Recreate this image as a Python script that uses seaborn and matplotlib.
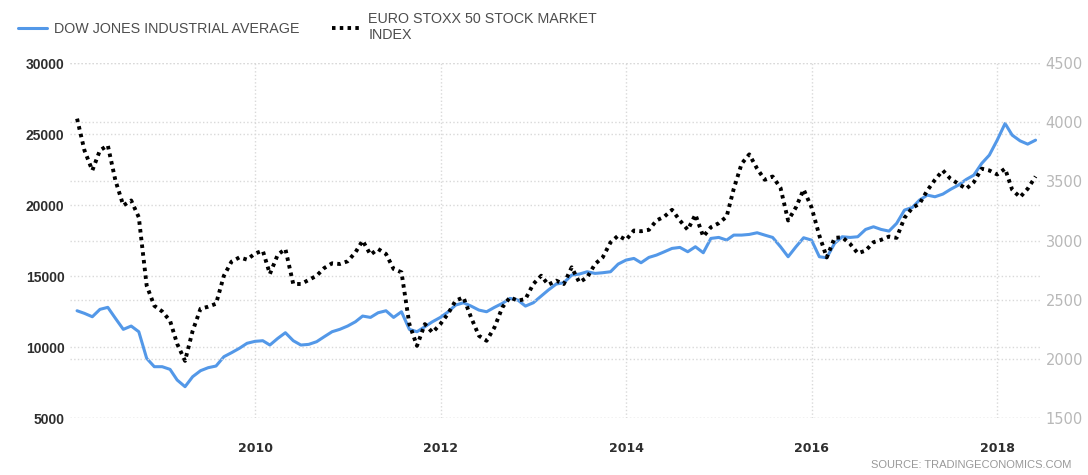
import pandas as pd
import matplotlib.pyplot as plt
import matplotlib.dates as mdates
from matplotlib.lines import Line2D
import seaborn as sns

# Monthly values, Jan 2008 .. May 2018
dow = [
    12556, 12373, 12134, 12655, 12796, 12021, 11246, 11479, 11077, 9202, 8615, 8615,
    8427, 7676, 7206, 7911, 8333, 8544, 8662, 9319, 9601, 9911, 10263, 10400,
    10446, 10141, 10610, 11009, 10446, 10141, 10188, 10376, 10728, 11080, 11246, 11479,
    11783, 12183, 12087, 12415, 12556, 12087, 12486, 11246, 11080, 11432, 11783, 12087,
    12486, 12955, 13120, 12885, 12603, 12486, 12796, 13075, 13428, 13310, 12885, 13120,
    13592, 14014, 14437, 14530, 15070, 15141, 15305, 15188, 15235, 15305, 15845, 16127,
    16244, 15939, 16315, 16479, 16714, 16949, 17019, 16714, 17066, 16643, 17653, 17723,
    17535, 17887, 17887, 17934, 18052, 17887, 17723, 17066, 16362, 17066, 17700, 17535,
    16362, 16291, 17306, 17770, 17723, 17770, 18286, 18474, 18286, 18169, 18709, 19648,
    19836, 20352, 20704, 20587, 20775, 21106, 21408, 21807, 22113, 22937, 23521, 24577,
    25751, 24929, 24528, 24296, 24577,
]
euro = [
    4031, 3763, 3593, 3763, 3805, 3508, 3297, 3339, 3197, 2619, 2449, 2401,
    2322, 2127, 1983, 2237, 2424, 2441, 2466, 2703, 2822, 2858, 2839, 2890,
    2915, 2718, 2881, 2929, 2633, 2633, 2667, 2703, 2768, 2808, 2802, 2825,
    2901, 3000, 2881, 2929, 2887, 2760, 2732, 2294, 2110, 2294, 2223, 2294,
    2384, 2492, 2520, 2350, 2195, 2153, 2266, 2435, 2520, 2492, 2506, 2633,
    2703, 2627, 2661, 2633, 2774, 2647, 2689, 2802, 2858, 2985, 3042, 3006,
    3085, 3079, 3091, 3170, 3203, 3260, 3170, 3091, 3220, 3034, 3113, 3147,
    3203, 3438, 3650, 3729, 3608, 3514, 3542, 3446, 3170, 3282, 3432, 3282,
    3042, 2858, 3023, 3028, 2972, 2893, 2915, 2986, 3006, 3034, 3023, 3192,
    3277, 3311, 3424, 3514, 3593, 3523, 3480, 3438, 3494, 3608, 3593, 3559,
    3608, 3430, 3367, 3438, 3542,
]
dates = pd.date_range("2008-01-31", periods=len(dow), freq="ME")

left_ticks = [5000, 10000, 15000, 20000, 25000, 30000]
right_ticks = [1500, 2000, 2500, 3000, 3500, 4000, 4500]
year_ticks = [2010, 2012, 2014, 2016, 2018]

label_dow = "DOW JONES INDUSTRIAL AVERAGE"
label_euro = "EURO STOXX 50 STOCK MARKET\nINDEX"

sns.set_style("white")
plt.rcParams['font.family'] = ['Liberation Sans', 'DejaVu Sans']

blue = "#5398e8"
grid_c = "#d9d9d9"

fig = plt.figure(figsize=(10.88, 4.75), dpi=100)
ax = fig.add_axes([0.0643, 0.12, 0.8917, 0.747])
ax2 = ax.twinx()

sns.lineplot(x=dates, y=dow, ax=ax, color=blue, linewidth=2.2)
sns.lineplot(x=dates, y=euro, ax=ax2, color="black", linewidth=2.8,
             linestyle=(0, (0.9, 1.1)))

ax.set_xlim(pd.Timestamp("2008-01-03"), pd.Timestamp("2018-06-18"))
ax.set_ylim(5000, 30000)
ax2.set_ylim(1500, 4500)
ax.set_yticks(left_ticks)
ax2.set_yticks(right_ticks)
ax.set_xticks([pd.Timestamp(f"{y}-01-01") for y in year_ticks])
ax.xaxis.set_major_formatter(mdates.DateFormatter("%Y"))

ax.grid(True, color=grid_c, linestyle=":", linewidth=1.0)
ax2.grid(True, axis="y", color=grid_c, linestyle=":", linewidth=1.0)
ax.set_axisbelow(True)

for a in (ax, ax2):
    for s in a.spines.values():
        s.set_visible(False)
    a.set_xlabel("")
    a.set_ylabel("")

ax.tick_params(axis="y", length=0, pad=4, labelsize=10, labelcolor="#2e2e2e")
ax.tick_params(axis="x", length=0, pad=17, labelcolor="#2e2e2e")
for t in ax.get_yticklabels():
    t.set_fontweight("bold")
for t in ax.get_xticklabels():
    t.set_fontweight("bold")
    t.set_family("DejaVu Sans")
    t.set_fontsize(9)
ax2.tick_params(axis="y", length=0, pad=4, labelcolor="#b8b8b8")
for t in ax2.get_yticklabels():
    t.set_family("DejaVu Sans")
    t.set_fontsize(10.5)

handles = [
    Line2D([], [], color=blue, linewidth=2.2),
    Line2D([], [], color="black", linewidth=2.8, linestyle=(0, (0.9, 1.1))),
]
fig.legend(handles, [label_dow, label_euro], loc="upper left",
           bbox_to_anchor=(0.005, 1.002), ncol=2, frameon=False,
           fontsize=10.3, labelcolor="#4d4d4d", handlelength=2.0,
           handletextpad=0.5, columnspacing=2.3, labelspacing=0.2)

fig.text(0.985, 0.01, "SOURCE: TRADINGECONOMICS.COM", ha="right", va="bottom",
         fontsize=8, color="#999999")

fig.savefig("out.png", dpi=100)
